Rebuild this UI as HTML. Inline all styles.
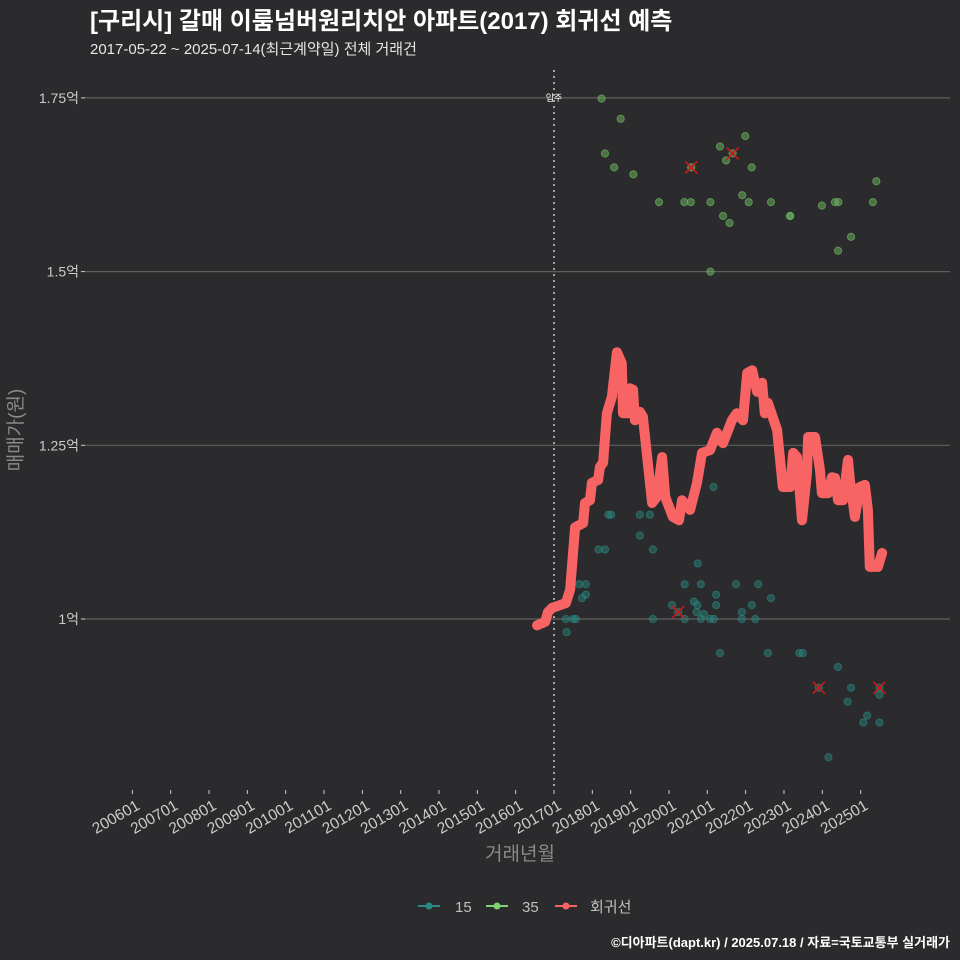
<!DOCTYPE html>
<html><head><meta charset="utf-8">
<style>
html,body{margin:0;padding:0;background:#2b2b2d;}
svg{display:block;font-family:"Liberation Sans","Noto Sans CJK KR",sans-serif;}
</style></head>
<body>
<svg id="chart" width="960" height="960" viewBox="0 0 960 960">
<rect width="960" height="960" fill="#2b2b2d"/>
<text x="90" y="29" fill="#ffffff" font-size="24" font-weight="bold">[구리시] 갈매 이룸넘버원리치안 아파트(2017) 회귀선 예측</text>
<text x="90" y="54" fill="#e6e6e6" font-size="15">2017-05-22 ~ 2025-07-14(최근계약일) 전체 거래건</text>
<g id="grid"></g>
<g id="yaxis"></g>
<g id="xaxis"></g>
<g id="marks"></g>
<text transform="translate(22,430) rotate(-90)" text-anchor="middle" fill="#8a8a8a" font-size="19">매매가(원)</text>
<text x="520" y="860" text-anchor="middle" fill="#8a8a8a" font-size="19">거래년월</text>
<g>
  <g>
    <line x1="418" y1="906" x2="440" y2="906" stroke="#2a8a82" stroke-width="2"/>
    <circle cx="429" cy="906" r="3.5" fill="#2a8a82"/>
    <text x="455" y="912" fill="#bfbfbf" font-size="15">15</text>
  </g>
  <g>
    <line x1="486" y1="906" x2="508" y2="906" stroke="#7ed36f" stroke-width="2"/>
    <circle cx="497" cy="906" r="3.5" fill="#7ed36f"/>
    <text x="522" y="912" fill="#bfbfbf" font-size="15">35</text>
  </g>
  <g>
    <line x1="555" y1="906" x2="577" y2="906" stroke="#f86464" stroke-width="2"/>
    <circle cx="566" cy="906" r="3.5" fill="#f86464"/>
    <text x="590" y="912" fill="#bfbfbf" font-size="15">회귀선</text>
  </g>
</g>
<text x="950" y="947" text-anchor="end" fill="#ffffff" font-size="13" font-weight="bold">©디아파트(dapt.kr) / 2025.07.18 / 자료=국토교통부 실거래가</text>
</svg>
<script>
const yTicks = [1.0, 1.25, 1.5, 1.75];
const yTickLabels = ["1억", "1.25억", "1.5억", "1.75억"];
const xTickYears = [2006,2007,2008,2009,2010,2011,2012,2013,2014,2015,2016,2017,2018,2019,2020,2021,2022,2023,2024,2025];
const xTickLabels = ["200601","200701","200801","200901","201001","201101","201201","201301","201401","201501","201601","201701","201801","201901","202001","202101","202201","202301","202401","202501"];
const moveInYear = 2017.0;
const regDates = [2016.56,2016.77,2016.84,2016.95,2017.16,2017.31,2017.42,2017.55,2017.76,2017.81,2017.94,2017.99,2018.15,2018.20,2018.28,2018.38,2018.51,2018.64,2018.77,2018.80,2018.93,2018.98,2019.06,2019.11,2019.24,2019.32,2019.56,2019.69,2019.82,2019.90,2020.10,2020.26,2020.34,2020.55,2020.73,2020.86,2021.07,2021.25,2021.41,2021.64,2021.77,2021.93,2022.04,2022.17,2022.30,2022.43,2022.50,2022.58,2022.82,2022.97,2023.16,2023.24,2023.34,2023.47,2023.60,2023.63,2023.81,2023.94,2023.99,2024.15,2024.25,2024.33,2024.41,2024.54,2024.67,2024.72,2024.85,2024.98,2025.11,2025.19,2025.24,2025.45,2025.56];
const regValues = [0.991,0.996,1.010,1.016,1.020,1.023,1.042,1.132,1.138,1.167,1.171,1.196,1.200,1.219,1.225,1.296,1.320,1.384,1.368,1.296,1.296,1.332,1.330,1.286,1.298,1.291,1.167,1.176,1.233,1.176,1.147,1.142,1.171,1.157,1.196,1.239,1.243,1.268,1.253,1.286,1.296,1.286,1.354,1.358,1.327,1.340,1.296,1.311,1.272,1.190,1.190,1.239,1.233,1.142,1.210,1.262,1.262,1.214,1.181,1.181,1.204,1.203,1.171,1.171,1.229,1.200,1.147,1.190,1.193,1.157,1.075,1.075,1.095];
const s35Dates = [2018.24,2018.74,2018.33,2018.57,2019.07,2019.74,2020.40,2020.57,2021.08,2021.33,2021.49,2021.66,2021.99,2022.16,2020.58,2021.91,2022.08,2022.66,2021.41,2021.58,2023.16,2023.16,2023.99,2024.33,2024.42,2025.32,2025.41,2024.75,2024.41,2021.08];
const s35Values = [1.749,1.720,1.670,1.650,1.640,1.600,1.600,1.600,1.600,1.680,1.660,1.670,1.695,1.650,1.650,1.610,1.600,1.600,1.580,1.570,1.580,1.580,1.595,1.600,1.600,1.600,1.630,1.550,1.530,1.500];
const s15Dates = [2021.16,2018.42,2018.49,2019.24,2019.50,2019.24,2019.58,2018.16,2018.33,2020.75,2017.66,2017.83,2017.73,2017.83,2020.41,2020.83,2021.75,2022.33,2021.23,2022.66,2020.08,2020.65,2020.74,2021.23,2022.16,2020.24,2020.72,2020.91,2021.90,2017.31,2017.50,2017.57,2019.58,2020.41,2020.83,2021.07,2021.17,2021.90,2022.25,2017.33,2021.33,2022.58,2023.40,2023.49,2024.41,2023.91,2024.75,2025.49,2025.49,2024.66,2025.17,2025.07,2025.49,2024.16];
const s15Values = [1.190,1.150,1.150,1.150,1.150,1.120,1.100,1.100,1.100,1.080,1.050,1.050,1.030,1.035,1.050,1.050,1.050,1.050,1.035,1.030,1.020,1.025,1.020,1.020,1.020,1.010,1.010,1.007,1.010,1.000,1.000,1.000,1.000,1.000,1.000,1.000,1.000,1.000,1.000,0.981,0.951,0.951,0.951,0.951,0.931,0.901,0.901,0.901,0.891,0.881,0.861,0.851,0.851,0.801];
const outDates = [2020.58,2021.66,2020.24,2023.91,2025.49];
const outValues = [1.650,1.670,1.010,0.901,0.901];

const NS = "http://www.w3.org/2000/svg";
const PL = 85, PR = 950, PT = 70, PB = 790;
function xScale(yr){ return 554 + (yr - 2017) * 38.33; }
function yScale(v){ return 619 - (v - 1) * 694.8; }
function mk(tag, attrs, parent){
  const e = document.createElementNS(NS, tag);
  for (const k in attrs) e.setAttribute(k, attrs[k]);
  parent.appendChild(e);
  return e;
}
const grid = document.getElementById('grid');
const yaxis = document.getElementById('yaxis');
const xaxis = document.getElementById('xaxis');
const marks = document.getElementById('marks');

yTicks.forEach((t, i) => {
  const y = yScale(t);
  const gl = mk('line', {x1: PL, x2: PR, y1: y, y2: y, stroke: '#5f5f5f', 'stroke-width': 1.2}, grid);
  
  
  const tk = mk('line', {x1: PL - 4, x2: PL, y1: y, y2: y, stroke: '#cccccc', 'stroke-width': 1}, yaxis);
  
  
  const lb = mk('text', {x: PL - 6, y: y + 5, 'text-anchor': 'end', fill: '#cccccc', 'font-size': 14}, yaxis);
  lb.textContent = yTickLabels[i];
  
  
});

xTickYears.forEach((yr, i) => {
  const x = xScale(yr);
  const tk = mk('line', {x1: x, x2: x, y1: PB, y2: PB + 4, stroke: '#cccccc', 'stroke-width': 1}, xaxis);
  
  
  const lb = mk('text', {transform: `translate(${x + 3},${PB + 9}) rotate(-30)`, 'text-anchor': 'end', fill: '#cccccc', 'font-size': 15.5, dy: '0.7em'}, xaxis);
  lb.textContent = xTickLabels[i];
  
  
});

const mx = xScale(moveInYear);
const vl = mk('line', {x1: mx, x2: mx, y1: PT, y2: PB, stroke: '#cccccc', 'stroke-width': 1.5, 'stroke-dasharray': '2,4'}, grid);


const vt = mk('text', {x: mx, y: yScale(1.75) + 3, 'text-anchor': 'middle', fill: '#ffffff', 'font-size': 9}, grid);
vt.textContent = '입주';



s15Dates.forEach((d, i) => {
  const c = mk('circle', {cx: xScale(d), cy: yScale(s15Values[i]), r: 3.6, fill: '#2a8a82', 'fill-opacity': 0.45, stroke: '#2a8a82', 'stroke-opacity': 0.6}, marks);
  
  
});
s35Dates.forEach((d, i) => {
  const c = mk('circle', {cx: xScale(d), cy: yScale(s35Values[i]), r: 3.6, fill: '#6fb862', 'fill-opacity': 0.5, stroke: '#6fb862', 'stroke-opacity': 0.65}, marks);
  
  
});

let dstr = '';
regDates.forEach((d, i) => { dstr += (i ? 'L' : 'M') + xScale(d).toFixed(1) + ',' + yScale(regValues[i]).toFixed(1); });
const rl = mk('path', {d: dstr, fill: 'none', stroke: '#f86464', 'stroke-width': 10, 'stroke-linejoin': 'round', 'stroke-linecap': 'round'}, marks);



outDates.forEach((d, i) => {
  const x = xScale(d), y = yScale(outValues[i]);
  const g = mk('g', {}, marks);
  
  
  mk('line', {x1: x - 6, y1: y - 6, x2: x + 6, y2: y + 6, stroke: '#d01818', 'stroke-width': 1.6}, g);
  mk('line', {x1: x - 6, y1: y + 6, x2: x + 6, y2: y - 6, stroke: '#d01818', 'stroke-width': 1.6}, g);
});
</script>
</body></html>
